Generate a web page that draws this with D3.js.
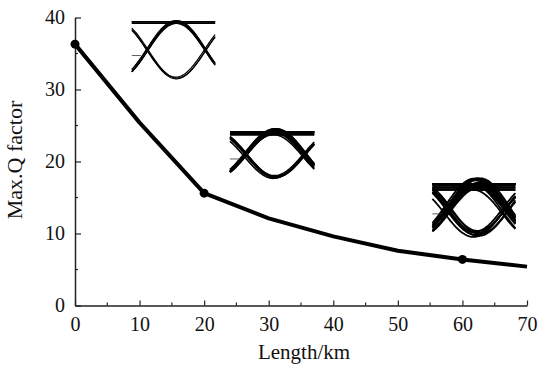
<!DOCTYPE html>
<html>
<head>
<meta charset="utf-8">
<script src="https://cdn.jsdelivr.net/npm/d3@7"></script>
<style>
  body { margin: 0; background: #fff; }
  text { font-family: "Liberation Serif", "Times New Roman", serif; fill: #111; }
</style>
</head>
<body>
<svg id="chart" width="540" height="365"></svg>
<script>
// measured values
const lengthKm = [0, 10, 20, 30, 40, 50, 60, 70]
const qFactor = [36.3, 25.4, 15.6, 12.1, 9.6, 7.6, 6.4, 5.4]
const markedKm = [0, 20, 60]
const xTicks = [0, 10, 20, 30, 40, 50, 60, 70]
const yTicks = [0, 10, 20, 30, 40]

// eye diagram insets: bit patterns and per-eye trace spread
const eyePatterns = [[1, 1, 1], [1, 0, 1], [0, 1, 1], [1, 1, 0], [0, 1, 0]]
const eyeSpread1 = [-0.03, 0, 0.03]
const eyeSpread2 = [-0.06, -0.03, 0, 0.03, 0.06]
const eyeSpread3 = [-0.12, -0.08, -0.04, 0, 0.04, 0.08, 0.12]
const eyeShift1 = [0, 0.012, -0.012]
const eyeShift2 = [-0.025, 0, 0.025, 0.01, -0.01]
const eyeShift3 = [-0.06, 0.035, -0.02, 0.06, 0, -0.04, 0.02]

const width = 540
const height = 365

const svg = d3.select('#chart')

const x = d3.scaleLinear().domain([0, 70]).range([75, 527])
const y = d3.scaleLinear().domain([0, 40]).range([305.5, 17.5])

// axes, ticks pointing inward
const xAxis = d3.axisBottom(x).tickValues(xTicks).tickSizeInner(-5).tickSizeOuter(0).tickPadding(11)
const yAxis = d3.axisLeft(y).tickValues(yTicks).tickSizeInner(-6).tickSizeOuter(0).tickPadding(10)

const gx = svg.append('g').attr('transform', `translate(0,${y(0)})`).call(xAxis)
const gy = svg.append('g').attr('transform', `translate(${x(0)},0)`).call(yAxis)

for (const g of [gx, gy]) {
  g.select('.domain').attr('stroke', '#222').attr('stroke-width', 1.5)
  g.selectAll('.tick line').attr('stroke', '#222').attr('stroke-width', 1.2)
  g.selectAll('.tick text').style('font-size', '20px').style('font-family', '"Liberation Serif", serif').attr('fill', '#111')
}
gx.selectAll('.tick text').attr('dy', '0.72em')

// minor ticks
svg.append('g').selectAll('line')
  .data(d3.range(5, 70, 10))
  .join('line')
  .attr('x1', d => x(d)).attr('x2', d => x(d))
  .attr('y1', y(0)).attr('y2', y(0) - 3)
  .attr('stroke', '#222').attr('stroke-width', 1.2)

svg.append('g').selectAll('line')
  .data(d3.range(5, 40, 10))
  .join('line')
  .attr('x1', x(0)).attr('x2', x(0) + 3)
  .attr('y1', d => y(d)).attr('y2', d => y(d))
  .attr('stroke', '#222').attr('stroke-width', 1.2)

// axis titles
svg.append('text')
  .attr('x', (x(0) + x(70)) / 2 + 3)
  .attr('y', 359)
  .attr('text-anchor', 'middle')
  .style('font-size', '21px')
  .text('Length/km')

svg.append('text')
  .attr('transform', `translate(22,${160}) rotate(-90)`)
  .attr('text-anchor', 'middle')
  .style('font-size', '22px')
  .text('Max.Q factor')

// main curve
const pts = lengthKm.map((k, i) => [k, qFactor[i]])
const line = d3.line().x(d => x(d[0])).y(d => y(d[1]))

svg.append('path')
  .datum(pts)
  .attr('d', line)
  .attr('fill', 'none')
  .attr('stroke', '#000')
  .attr('stroke-width', 4)
  .attr('stroke-linejoin', 'round')

svg.append('g').selectAll('circle')
  .data(markedKm)
  .join('circle')
  .attr('cx', d => x(d))
  .attr('cy', d => y(qFactor[lengthKm.indexOf(d)]))
  .attr('r', 4.5)
  .attr('fill', '#000')

// eye diagrams
const insets = [
  { km: [8.8, 21.7], q: [39.4, 31.6], spread: eyeSpread1, shift: eyeShift1, bump: 0.02, w: 1.2 },
  { km: [24.0, 37.05], q: [24.1, 17.85], spread: eyeSpread2, shift: eyeShift2, bump: 0.07, w: 1.6 },
  { km: [55.35, 68.2], q: [16.9, 9.95], spread: eyeSpread3, shift: eyeShift3, bump: 0.11, w: 1.8 }
]

const tStart = -0.27
const tEnd = 1.17

function eyeValue(bits, t, top) {
  // bit centres at -0.5, 0.5, 1.5, raised-cosine transitions between them
  const lv = bits.map((b, i) => b ? (i === 1 && !bits[0] && !bits[2] ? top : 1) : 0)
  if (t < 0.5) {
    const f = (1 - Math.cos(Math.PI * (t + 0.5))) / 2
    return lv[0] + (lv[1] - lv[0]) * f
  }
  const f = (1 - Math.cos(Math.PI * (t - 0.5))) / 2
  return lv[1] + (lv[2] - lv[1]) * f
}

insets.forEach(ins => {
  const tx = d3.scaleLinear().domain([tStart, tEnd]).range([x(ins.km[0]), x(ins.km[1])])
  const vy = d3.scaleLinear().domain([0, 1]).range([y(ins.q[1]), y(ins.q[0])])
  const g = svg.append('g')
  const ts = d3.range(tStart, tEnd + 0.001, 0.02)
  const traces = []
  eyePatterns.forEach(bits => {
    ins.spread.forEach((s, j) => {
      const sh = ins.shift[j]
      traces.push(ts.map(t => [tx(t), vy(eyeValue(bits, t - sh, 1 + ins.bump) * (1 - Math.abs(s) * 0.5) + s * 0.5)]))
    })
  })
  g.selectAll('path')
    .data(traces)
    .join('path')
    .attr('d', d3.line())
    .attr('fill', 'none')
    .attr('stroke', '#000')
    .attr('stroke-width', ins.w)

  // short level marker on the left edge
  g.append('line')
    .attr('x1', tx(tStart)).attr('x2', tx(tStart) + 9)
    .attr('y1', vy(0.4)).attr('y2', vy(0.4))
    .attr('stroke', '#333').attr('stroke-width', 0.8)
})
</script>
</body>
</html>
